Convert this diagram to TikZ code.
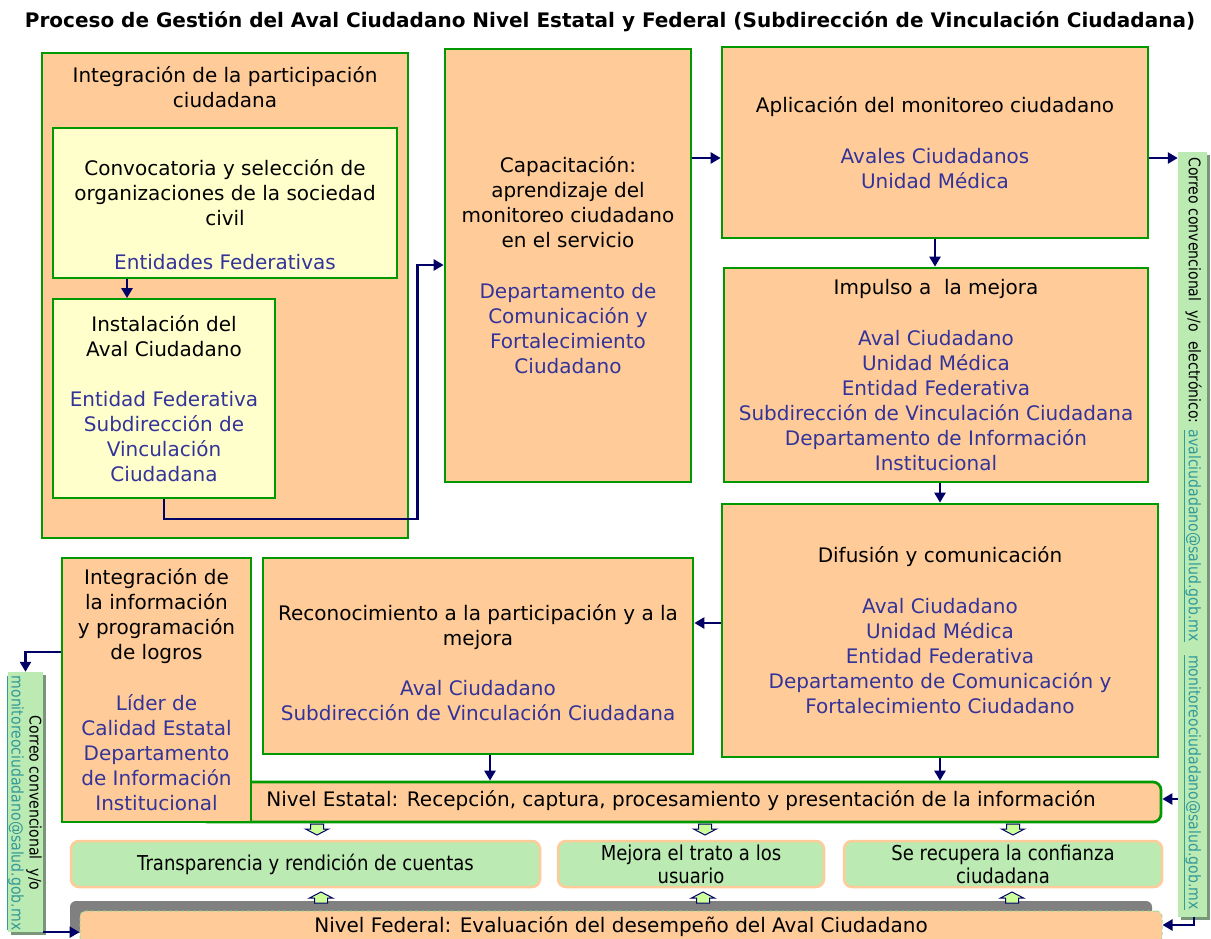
\documentclass[tikz,border=0pt]{standalone}
\usepackage{fontspec}
\setmainfont{DejaVu Sans}
\newfontfamily\narrowfam{DejaVu Sans}[FakeStretch=0.88]
\usetikzlibrary{arrows.meta,shadows}

\definecolor{peach}{HTML}{FFCC99}
\definecolor{boxgreen}{HTML}{009900}
\definecolor{paleyellow}{HTML}{FFFFCC}
\definecolor{txtblue}{HTML}{333399}
\definecolor{navy}{HTML}{000066}
\definecolor{mint}{HTML}{BBEAB3}
\definecolor{lime}{HTML}{CCFF99}
\definecolor{barshadow}{HTML}{7A967A}
\definecolor{mailteal}{HTML}{339999}
\definecolor{dashgreen}{HTML}{99DD99}

\newcommand\bl[1]{\textcolor{txtblue}{#1}}
\newcommand\mail[1]{\textcolor{mailteal}{\underline{#1}}}
\newcommand\bodyfont{\fontsize{20}{25}\selectfont}
\newcommand\sidefont{\narrowfam\fontsize{16}{18}\selectfont}
\newcommand\outfont{\narrowfam\fontsize{20.5}{23}\selectfont}

\begin{document}
\begin{tikzpicture}[x=1pt,y=-1pt,
  box/.style={draw=boxgreen, line width=2.7pt, fill=peach, inner sep=0pt},
  ybox/.style={draw=boxgreen, line width=1.7pt, fill=paleyellow, inner sep=0pt},
  gbox/.style={draw=peach, line width=2.5pt, fill=mint, rounded corners=8pt, inner sep=0pt,
    align=center, font=\outfont},
  txt/.style={align=center, font=\bodyfont, inner sep=0pt},
  bar/.style={fill=mint, inner sep=0pt,
    general shadow={fill=barshadow, shadow xshift=3pt, shadow yshift=-3pt}},
  arr/.style={draw=navy, line width=2.4pt, -{Triangle[length=10pt,width=11pt]}},
  dnarrow/.pic={\draw[line width=1pt, draw=navy, fill=lime]
    (-6.5,0) -- (-6.5,5) -- (-11.5,5) -- (0,11) -- (11.5,5) -- (6.5,5) -- (6.5,0) -- cycle;},
  uparrow/.pic={\draw[line width=1pt, draw=navy, fill=lime]
    (-6.5,0) -- (-6.5,-5) -- (-11.5,-5) -- (0,-11) -- (11.5,-5) -- (6.5,-5) -- (6.5,0) -- cycle;}
]
\useasboundingbox (0,0) rectangle (1211,939);
\fill[white] (0,0) rectangle (1211,939);

% title
\node[font=\fontsize{20}{23}\selectfont\bfseries, inner sep=0pt] (title) at (610,22)
  {Proceso de Gestión del Aval Ciudadano Nivel Estatal y Federal (Subdirección de Vinculación Ciudadana)};

% integration of citizen participation
\node[box, minimum width=366pt, minimum height=485pt] (integ) at (225,295.5) {};
\node[txt] (integ-t) at (225,87.5) {Integración de la participación\\ciudadana};
\node[ybox, minimum width=344pt, minimum height=150pt] (conv) at (225,203) {};
\node[txt] (conv-t) at (225,215) {Convocatoria y selección de\\organizaciones de la sociedad\\civil\\[19pt]\bl{Entidades Federativas}};
\node[ybox, txt, minimum width=222pt, minimum height=199pt] (inst) at (164,398.5)
  {Instalación del\\Aval Ciudadano\\[25pt]\bl{Entidad Federativa}\\\bl{Subdirección de}\\\bl{Vinculación}\\\bl{Ciudadana}};

% training
\node[box, txt, minimum width=246pt, minimum height=433pt] (capac) at (568,265.5)
  {Capacitación:\\aprendizaje del\\monitoreo ciudadano\\en el servicio\\[26pt]\bl{Departamento de}\\\bl{Comunicación y}\\\bl{Fortalecimiento}\\\bl{Ciudadano}};

% monitoring chain
\node[box, txt, minimum width=426pt, minimum height=191pt] (aplic) at (935,142.5)
  {Aplicación del monitoreo ciudadano\\[26pt]\bl{Avales Ciudadanos}\\\bl{Unidad Médica}};
\node[box, txt, minimum width=424pt, minimum height=214pt] (impul) at (936,375)
  {Impulso a\ \ la mejora\\[26pt]\bl{Aval Ciudadano}\\\bl{Unidad Médica}\\\bl{Entidad Federativa}\\\bl{Subdirección de Vinculación Ciudadana}\\\bl{Departamento de Información}\\\bl{Institucional}};
\node[box, txt, minimum width=436pt, minimum height=253pt] (difus) at (940,630.5)
  {Difusión y comunicación\\[26pt]\bl{Aval Ciudadano}\\\bl{Unidad Médica}\\\bl{Entidad Federativa}\\\bl{Departamento de Comunicación y}\\\bl{Fortalecimiento Ciudadano}};
\node[box, minimum width=430pt, minimum height=196pt] (recon) at (478,656) {};
\node[txt] (recon-t) at (478,663)
  {Reconocimiento a la participación y a la\\mejora\\[25pt]\bl{Aval Ciudadano}\\\bl{Subdirección de Vinculación Ciudadana}};

% state level
\node[box, rounded corners=8pt, minimum width=962pt, minimum height=40pt] (estatal) at (680,802) {};
\node[txt] (estatal-t) at (681,801)
  {Nivel Estatal: Recepción, captura, procesamiento y presentación de la información};
\node[box, txt, minimum width=189pt, minimum height=264pt] (info) at (156.5,690)
  {Integración de\\la información\\y programación\\de logros\\[26pt]\bl{Líder de}\\\bl{Calidad Estatal}\\\bl{Departamento}\\\bl{de Información}\\\bl{Institucional}};

% outcomes
\node[gbox, minimum width=469pt, minimum height=46pt] (transp) at (305.5,864) {Transparencia y rendición de cuentas};
\node[gbox, minimum width=266pt, minimum height=46pt] (mejora) at (691,864) {Mejora el trato a los\\usuario};
\node[gbox, minimum width=318pt, minimum height=46pt] (recup) at (1003,864) {Se recupera la confianza\\ciudadana};

% federal level
\node[fill=peach, draw=dashgreen, dashed, line width=1pt, rounded corners=6pt, txt,
  minimum width=1082pt, minimum height=32pt,
  general shadow={fill=gray, shadow xshift=-10pt, shadow yshift=10pt, sharp corners}]
  (federal) at (621,927) {Nivel Federal: Evaluación del desempeño del Aval Ciudadano};

% mail side bars
\node[bar, minimum width=29pt, minimum height=765pt] (rbar) at (1192.5,534.5) {};
\node[rotate=-90, font=\sidefont, inner sep=0pt] (rbar-t) at (1192.5,533.5)
  {Correo convencional\ \ y/o\ \ electrónico: \mail{avalciudadano@salud.gob.mx}\ \ \ \mail{monitoreociudadano@salud.gob.mx}};
\node[bar, minimum width=35pt, minimum height=260pt] (lbar) at (25.5,802) {};
\node[rotate=-90, font=\sidefont, align=center, inner sep=0pt] (lbar-t) at (24,803)
  {Correo convencional\ \ y/o\\\mail{monitoreociudadano@salud.gob.mx}};

% small block arrows
\pic at (317,824) {dnarrow};
\pic at (705,824) {dnarrow};
\pic at (1013,824) {dnarrow};
\pic at (321,903) {uparrow};
\pic at (703,903) {uparrow};
\pic at (1012,903) {uparrow};

% connectors
\coordinate (p1) at ([xshift=-98pt]conv.south);
\draw[arr] (p1) -- (p1 |- inst.north);
\coordinate (p2) at ([yshift=0.5pt]capac.west);
\draw[arr] (inst.south) -- ++(0,20) -| ([xshift=-26pt]p2) -- (p2);
\coordinate (p3) at ([yshift=107.5pt]capac.east);
\draw[arr] (p3) -- (p3 -| aplic.west);
\coordinate (p4) at ([yshift=-15.5pt]aplic.east);
\draw[arr] (p4) -- (p4 -| rbar.west);
\draw[arr] (aplic.south) -- (aplic.south |- impul.north);
\coordinate (p6) at ([xshift=4pt]impul.south);
\draw[arr] (p6) -- (p6 |- difus.north);
\coordinate (p7) at ([yshift=7.5pt]difus.west);
\draw[arr] (p7) -- (p7 -| recon.east);
\coordinate (p8) at ([xshift=12pt]recon.south);
\draw[arr] (p8) -- (p8 |- estatal.north);
\draw[arr] (difus.south) -- (difus.south |- estatal.north);
\coordinate (p10) at ([yshift=3pt]estatal.east);
\draw[arr] (p10 -| rbar.west) -- (p10);
\coordinate (p11) at ([yshift=2pt]federal.east);
\draw[arr] ([xshift=1.5pt]rbar.south) |- (p11);
\coordinate (p12) at ([yshift=38pt]info.west);
\draw[arr] (p12) -| (lbar.north);
\draw[arr] (lbar.south east) -- (lbar.south east -| federal.west);
\end{tikzpicture}
\end{document}
